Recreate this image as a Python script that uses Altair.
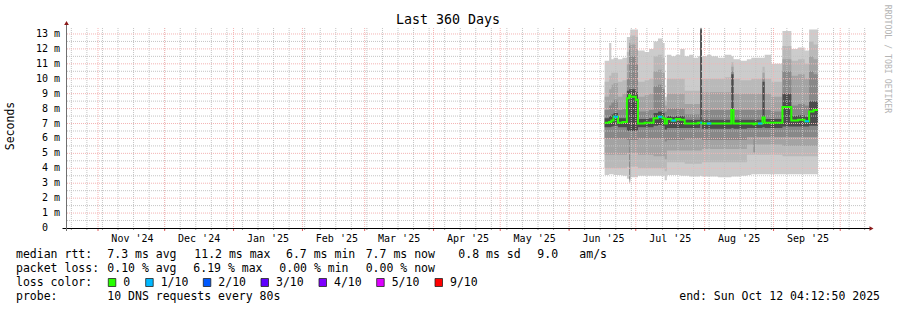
import altair as alt
import pandas as pd

MONO = "DejaVu Sans Mono"

# ---- smoke data (10 sorted pings per column, median, loss count) ----
dates = [
    "2025-06-17T00:00:00", "2025-06-19T00:00:00", "2025-06-20T00:00:00", "2025-06-21T00:00:00",
    "2025-06-23T00:00:00", "2025-06-25T00:00:00", "2025-06-27T00:00:00", "2025-06-28T00:00:00",
    "2025-06-28T12:00:00", "2025-07-01T00:00:00", "2025-07-02T00:00:00", "2025-07-05T00:00:00",
    "2025-07-07T00:00:00", "2025-07-09T00:00:00", "2025-07-11T00:00:00", "2025-07-13T00:00:00",
    "2025-07-14T00:00:00", "2025-07-15T00:00:00", "2025-07-17T00:00:00", "2025-07-19T00:00:00",
    "2025-07-21T00:00:00", "2025-07-23T00:00:00", "2025-07-25T00:00:00", "2025-07-27T00:00:00",
    "2025-07-29T00:00:00", "2025-07-30T00:00:00", "2025-07-30T18:00:00", "2025-08-02T00:00:00",
    "2025-08-04T00:00:00", "2025-08-07T00:00:00", "2025-08-10T00:00:00", "2025-08-13T00:00:00",
    "2025-08-14T00:00:00", "2025-08-17T00:00:00", "2025-08-20T00:00:00", "2025-08-22T00:00:00",
    "2025-08-23T00:00:00", "2025-08-23T12:00:00", "2025-08-25T00:00:00", "2025-08-27T00:00:00",
    "2025-08-28T00:00:00", "2025-08-31T00:00:00", "2025-09-05T00:00:00", "2025-09-09T00:00:00",
    "2025-09-12T00:00:00", "2025-09-15T00:00:00", "2025-09-17T00:00:00", "2025-09-19T00:00:00",
    "2025-09-21T00:00:00",
]
lo1 = [3.55, 3.6, 3.6, 3.55, 3.55, 3.5, 3.3, 3.0, 3.4, 3.4, 3.5, 3.5, 3.5, 3.5, 3.5, 3.5, 3.2,
       3.55, 3.55, 3.55, 3.5, 3.5, 3.45, 3.45, 3.45, 3.5, 3.45, 3.45, 3.45, 3.4, 3.4, 3.45, 3.45,
       3.5, 3.55, 3.6, 3.6, 3.6, 3.6, 3.6, 3.6, 3.6, 3.6, 3.6, 3.6, 3.6, 3.6, 3.6, 3.6]
lo2 = [4.0, 4.0, 4.0, 4.0, 4.0, 4.0, 4.1, 3.1, 4.1, 4.1, 4.0, 4.0, 4.0, 4.0, 4.0, 4.0, 3.8,
       4.4, 4.4, 4.4, 4.4, 4.3, 4.3, 4.3, 4.3, 4.3, 4.4, 4.4, 4.4, 4.4, 4.4, 4.4, 4.4,
       4.4, 4.9, 4.9, 4.9, 4.9, 4.9, 4.9, 4.9, 4.9, 4.8, 4.8, 4.8, 4.8, 4.8, 4.8, 4.8]
lo3 = [4.9, 4.9, 4.9, 4.9, 4.9, 4.9, 5.0, 3.2, 5.0, 5.0, 4.9, 4.9, 4.9, 4.8, 4.8, 4.8, 4.6,
       5.2, 5.2, 5.2, 5.2, 5.2, 5.2, 5.2, 5.2, 5.2, 5.3, 5.3, 5.3, 5.3, 5.3, 5.3, 5.3,
       5.3, 5.6, 5.6, 5.0, 5.6, 5.6, 5.6, 5.6, 5.6, 5.5, 5.5, 5.5, 5.5, 5.5, 5.5, 5.5]
lo4 = [6.0, 6.0, 6.0, 6.0, 6.0, 6.0, 5.9, 3.3, 5.9, 5.9, 6.0, 6.0, 6.0, 6.0, 6.0, 6.0, 5.8,
       5.9, 5.9, 5.9, 5.9, 6.0, 6.0, 6.0, 6.0, 6.0, 5.9, 5.9, 5.9, 5.9, 5.9, 5.9, 5.9,
       5.9, 6.1, 6.1, 5.1, 6.1, 6.1, 6.1, 6.1, 6.1, 6.1, 6.1, 6.1, 6.1, 6.1, 6.1, 6.1]
lo5 = [6.75, 6.75, 6.8, 6.85, 6.75, 6.75, 6.5, 6.5, 6.5, 6.5, 6.75, 6.75, 6.75, 6.85, 6.9, 6.85, 6.6,
       6.7, 6.7, 6.7, 6.7, 6.7, 6.7, 6.7, 6.7, 7.0, 6.65, 6.65, 6.65, 6.65, 6.65, 6.7, 6.65,
       6.65, 6.7, 6.7, 6.7, 6.7, 6.7, 6.75, 6.7, 6.7, 6.8, 6.8, 6.8, 6.8, 6.85, 6.85, 6.85]
med = [7.05, 7.1, 7.2, 7.45, 7.05, 7.1, 8.7, 8.9, 8.8, 8.6, 7.0, 7.05, 7.05, 7.35, 7.45, 7.35, 7.0,
       7.3, 7.2, 7.3, 7.25, 7.0, 7.0, 7.0, 7.05, 7.05, 7.0, 7.0, 7.0, 7.0, 7.0, 7.9, 7.0,
       7.0, 7.0, 7.0, 6.95, 7.0, 7.0, 7.4, 7.05, 7.05, 8.1, 7.2, 7.25, 7.15, 7.8, 7.9, 7.9]
hi5 = [7.35, 7.5, 7.6, 7.7, 7.35, 7.35, 9.2, 9.3, 9.3, 9.1, 7.3, 7.3, 7.35, 7.7, 7.8, 7.7, 7.35,
       7.5, 7.45, 7.5, 7.5, 7.25, 7.25, 7.25, 7.25, 13.3, 7.25, 7.25, 7.25, 7.25, 7.25, 10.3, 7.25,
       7.25, 7.25, 7.25, 7.25, 7.25, 7.25, 9.8, 7.3, 7.3, 9.0, 7.5, 7.55, 7.45, 8.5, 8.5, 8.5]
hi4 = [7.9, 8.2, 8.4, 8.6, 7.9, 8.0, 10.0, 12.2, 11.5, 11.0, 7.8, 7.8, 7.9, 9.5, 9.6, 9.3, 7.8,
       8.0, 8.0, 8.0, 8.0, 7.6, 7.6, 7.6, 7.6, 13.35, 7.9, 7.9, 7.9, 7.9, 7.9, 10.5, 7.9,
       7.9, 7.9, 7.9, 7.9, 7.9, 7.9, 10.0, 7.9, 7.8, 10.5, 8.2, 8.3, 8.2, 10.5, 10.3, 10.3]
hi3 = [8.8, 9.3, 9.6, 9.7, 8.8, 9.0, 11.0, 12.4, 12.3, 12.0, 8.8, 8.9, 9.0, 10.5, 10.6, 10.4, 8.2,
       9.0, 9.0, 9.0, 9.0, 8.3, 8.3, 8.3, 8.3, 13.38, 9.1, 9.1, 9.1, 9.1, 9.1, 10.8, 9.0,
       9.0, 9.0, 9.0, 9.0, 9.0, 9.0, 10.4, 9.0, 8.8, 11.3, 10.2, 10.3, 10.0, 11.5, 11.3, 11.3]
hi2 = [9.8, 10.2, 10.4, 10.4, 9.8, 9.9, 11.8, 12.6, 12.9, 12.8, 9.8, 9.9, 10.0, 11.5, 11.6, 11.4, 8.5,
       10.0, 10.0, 10.0, 10.0, 9.2, 9.2, 9.2, 9.2, 13.4, 10.0, 10.0, 10.0, 10.0, 10.1, 11.1, 10.0,
       9.9, 9.9, 10.0, 10.0, 10.0, 10.0, 10.8, 10.0, 9.8, 12.2, 11.2, 11.3, 11.0, 12.5, 12.3, 12.3]
hi1 = [11.2, 12.4, 11.3, 11.4, 11.3, 11.4, 12.8, 12.8, 13.3, 13.3, 11.9, 11.8, 12.0, 12.5, 12.7, 12.4, 8.8,
       11.6, 11.5, 11.6, 12.0, 11.5, 11.6, 11.4, 11.5, 13.42, 11.5, 11.6, 11.5, 11.4, 11.6, 11.5, 11.3,
       11.2, 11.3, 11.4, 11.4, 11.4, 11.4, 11.4, 11.6, 11.0, 13.2, 12.0, 12.1, 11.9, 13.3, 13.3, 13.3]
loss = [0, 0, 0, 1, 0, 0, 0, 0, 0, 0, 0, 0, 0, 0, 1, 0, 0,
        0, 1, 0, 0, 0, 0, 0, 0, 1, 0, 1, 0, 0, 0, 0, 0,
        0, 0, 0, 0, 0, 1, 0, 0, 0, 0, 0, 0, 1, 0, 0, 0]

# ---- axis / grid definitions ----
month_starts = ["2024-11-01", "2024-12-01", "2025-01-01", "2025-02-01", "2025-03-01", "2025-04-01",
                "2025-05-01", "2025-06-01", "2025-07-01", "2025-08-01", "2025-09-01", "2025-10-01"]
month_label_dates = ["2024-11-16", "2024-12-16", "2025-01-16", "2025-02-16", "2025-03-16", "2025-04-16",
                     "2025-05-16", "2025-06-16", "2025-07-16", "2025-08-16", "2025-09-16"]
month_labels = ["Nov '24", "Dec '24", "Jan '25", "Feb '25", "Mar '25", "Apr '25",
                "May '25", "Jun '25", "Jul '25", "Aug '25", "Sep '25"]
y_ticks = list(range(0, 14))
y_minor = [v + 0.5 for v in range(0, 13)]

loss_labels = ["0", "1/10", "2/10", "3/10", "4/10", "5/10", "9/10"]
loss_colors = ["#26ff00", "#00b8ff", "#0059ff", "#5e00ff", "#7e00ff", "#dd00ff", "#ff0000"]

smoke_colors = ["#cccccc", "#b9b9b9", "#a3a3a3", "#888888", "#4c4c4c"]

# ---- tables ----
df = pd.DataFrame({"date": dates, "lo1": lo1, "lo2": lo2, "lo3": lo3, "lo4": lo4, "lo5": lo5,
                   "med": med, "hi5": hi5, "hi4": hi4, "hi3": hi3, "hi2": hi2, "hi1": hi1,
                   "loss": loss})
df["next"] = df["date"].shift(-1)
lossdf = df[(df["loss"] > 0) & df["next"].notna()]

weeks = pd.date_range("2024-10-20", "2025-10-12", freq="7D").strftime("%Y-%m-%dT00:00:00").tolist()
weekdf = pd.DataFrame({"date": weeks})
monthdf = pd.DataFrame({"date": [d + "T00:00:00" for d in month_starts]})
mlabdf = pd.DataFrame({"date": [d + "T12:00:00" for d in month_label_dates], "t": month_labels})
ymajdf = pd.DataFrame({"v": y_ticks[1:]})
ymindf = pd.DataFrame({"v": y_minor})
ylabdf = pd.DataFrame({"v": y_ticks, "t": [str(v) for v in y_ticks]})
yunitdf = pd.DataFrame({"v": y_ticks[1:], "t": ["m"] * 13})

xs = alt.Scale(domain=[alt.DateTime(year=2024, month=10, date=18, hours=1, minutes=12),
                       alt.DateTime(year=2025, month=10, date=13, hours=1, minutes=12)])
ys = alt.Scale(domain=[0, 13.4], nice=False, zero=False)
X = alt.X("date:T", scale=xs, axis=None)

layers = []
# smoke (nested bands, outer first)
for k in range(1, 6):
    layers.append(
        alt.Chart(df).mark_area(interpolate="step-after", color=smoke_colors[k - 1]).encode(
            x=X, y=alt.Y(f"lo{k}:Q", scale=ys, axis=None, stack=None), y2=f"hi{k}:Q"))

GRID = "#c4c4c4"
MGRID = "#f4b4b4"
# grid
layers.append(alt.Chart(weekdf).mark_rule(color=GRID, strokeDash=[1, 1], strokeWidth=1).encode(
    x=X, y=alt.value(0), y2=alt.value(200)))
layers.append(alt.Chart(ymindf).mark_rule(color=GRID, strokeDash=[1, 1], strokeWidth=1).encode(
    y=alt.Y("v:Q", scale=ys, axis=None), x=alt.value(0), x2=alt.value(800)))
layers.append(alt.Chart(monthdf).mark_rule(color=MGRID, strokeDash=[1, 1], strokeWidth=1).encode(
    x=X, y=alt.value(0), y2=alt.value(200)))
layers.append(alt.Chart(ymajdf).mark_rule(color=MGRID, strokeDash=[1, 1], strokeWidth=1).encode(
    y=alt.Y("v:Q", scale=ys, axis=None), x=alt.value(0), x2=alt.value(800)))

# median line + loss colouring
layers.append(alt.Chart(df).mark_line(interpolate="step-after", color=loss_colors[0], strokeWidth=2).encode(
    x=X, y=alt.Y("med:Q", scale=ys, axis=None)))
layers.append(alt.Chart(lossdf).mark_rule(color=loss_colors[1], strokeWidth=2).encode(
    x=X, x2="next:T", y=alt.Y("med:Q", scale=ys, axis=None)))

# x-axis ticks
layers.append(alt.Chart(weekdf).mark_rule(color="#999999", strokeWidth=1).encode(
    x=X, y=alt.value(200), y2=alt.value(202)))
layers.append(alt.Chart(monthdf).mark_rule(color="#e06060", strokeWidth=1).encode(
    x=X, y=alt.value(200), y2=alt.value(203)))

one = pd.DataFrame({"a": [0]})
# axis lines
layers.append(alt.Chart(one).mark_rule(color="#000000", strokeWidth=1).encode(
    x=alt.value(-4.5), x2=alt.value(804), y=alt.value(200.5)))
layers.append(alt.Chart(one).mark_rule(color="#707070", strokeWidth=1).encode(
    x=alt.value(-0.5), y=alt.value(203), y2=alt.value(-4)))
layers.append(alt.Chart(one).mark_point(shape="triangle-up", filled=True, size=22, color="#8b1a1a", opacity=1).encode(
    x=alt.value(-0.5), y=alt.value(-5)))
layers.append(alt.Chart(one).mark_point(shape="triangle-right", filled=True, size=22, color="#8b1a1a", opacity=1).encode(
    x=alt.value(804.5), y=alt.value(200.5)))

# y labels
layers.append(alt.Chart(ylabdf).mark_text(align="right", baseline="middle", font=MONO, fontSize=10, color="#000").encode(
    y=alt.Y("v:Q", scale=ys, axis=None), x=alt.value(-19), text="t:N"))
layers.append(alt.Chart(yunitdf).mark_text(align="left", baseline="middle", font=MONO, fontSize=10, color="#000").encode(
    y=alt.Y("v:Q", scale=ys, axis=None), x=alt.value(-13), text="t:N"))
# month labels
layers.append(alt.Chart(mlabdf).mark_text(align="center", baseline="alphabetic", font=MONO, fontSize=10, color="#000").encode(
    x=X, y=alt.value(213.5), text="t:N"))


def label(txt, x, y, size=11.5, align="left", color="#000000", angle=0, baseline="alphabetic"):
    return alt.Chart(pd.DataFrame({"t": [txt]})).mark_text(
        align=align, baseline=baseline, font=MONO, fontSize=size, color=color, angle=angle
    ).encode(x=alt.value(x), y=alt.value(y), text="t:N")


layers.append(label("Last 360 Days", 381, -4, size=13.3, align="center"))
layers.append(label("Seconds", -56, 98, size=11.5, align="center", baseline="middle", angle=270))
layers.append(label("RRDTOOL / TOBI OETIKER", 819.5, 31, size=8.2, align="center", baseline="middle",
                    angle=90, color="#b4b4b4"))

# legend rows
r1, r2, r3, r4 = 230, 244, 258, 272
for txt, x in [("median rtt:", -51), ("7.3 ms avg", 40.3), ("11.2 ms max", 127.3), ("6.7 ms min", 219),
               ("7.7 ms now", 298.7), ("0.8 ms sd", 391.3), ("9.0", 470.3), ("am/s", 512.3)]:
    layers.append(label(txt, x, r1))
for txt, x in [("packet loss:", -51), ("0.10 % avg", 40.3), ("6.19 % max", 126.3), ("0.00 % min", 212.3),
               ("0.00 % now", 298.7)]:
    layers.append(label(txt, x, r2))
layers.append(label("loss color:", -51, r3))
box_x = [41.3, 78.7, 136.3, 194, 252, 309.7, 368]
for lab, col, bx in zip(loss_labels, loss_colors, box_x):
    layers.append(alt.Chart(one).mark_rect(color=col, stroke="#222222", strokeWidth=0.8).encode(
        x=alt.value(bx), x2=alt.value(bx + 7.5), y=alt.value(250.5), y2=alt.value(258.5)))
    layers.append(label(lab, bx + 15, r3))
layers.append(label("probe:", -51, r4))
layers.append(label("10 DNS requests every 80s", 40.3, r4))
layers.append(label("end: Sun Oct 12 04:12:50 2025", 813, r4, align="right"))

chart = alt.layer(*layers).properties(
    width=800, height=200,
    padding={"left": 67, "top": 28, "right": 30, "bottom": 82},
    autosize=alt.AutoSizeParams(type="none"),
    background="white",
).configure_view(stroke=None)

chart.save("out.html", embed_options={"renderer": "svg", "actions": False})
